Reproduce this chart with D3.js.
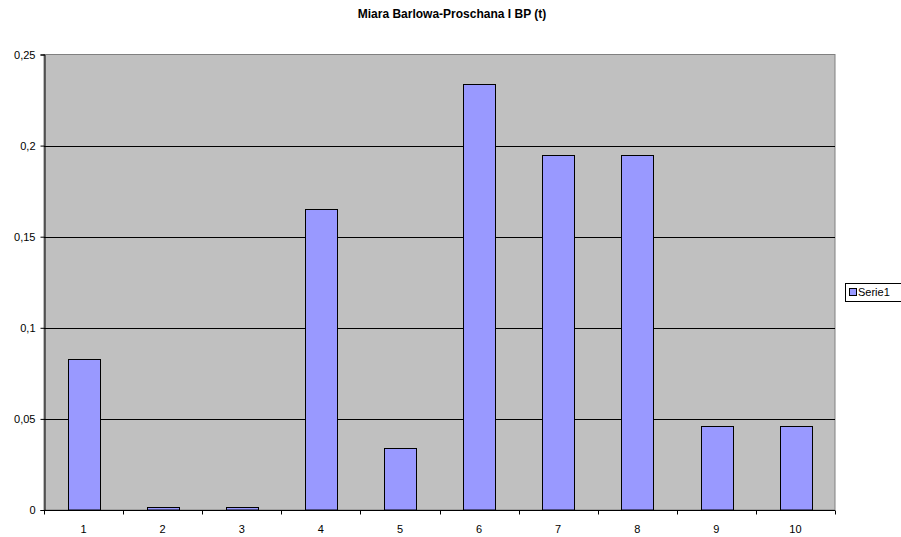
<!DOCTYPE html>
<html><head><meta charset="utf-8">
<script src="https://cdn.jsdelivr.net/npm/d3@7"></script>
<style>body{margin:0;background:#fff}svg{display:block;font-family:"Liberation Sans",Arial,sans-serif}</style>
</head><body><svg id="c" width="901" height="537"></svg>
<script>
const categories = ["1","2","3","4","5","6","7","8","9","10"];
const values = [0.0831, 0.0015, 0.0015, 0.165, 0.0342, 0.2337, 0.1947, 0.1947, 0.0461, 0.0461];
const yTicks = [0, 0.05, 0.1, 0.15, 0.2, 0.25];
const yTickLabels = ["0", "0,05", "0,1", "0,15", "0,2", "0,25"];
const seriesName = "Serie1";
const title = "Miara Barlowa-Proschana I BP (t)";

const svg = d3.select("#c");
const L = 44, R = 835, T = 54.5, B = 510;
const xb = d3.scaleBand().domain(categories).range([L, R]);
const y = d3.scaleLinear().domain([0, 0.25]).range([B, T]);

svg.append("rect").attr("x", L).attr("y", T).attr("width", R - L).attr("height", B - T)
  .attr("fill", "#c0c0c0").attr("stroke", "#808080").attr("stroke-width", 1);

// gridlines
svg.append("g").selectAll("line").data(yTicks.filter(d => d > 0 && d < 0.25)).join("line")
  .attr("x1", L).attr("x2", R).attr("y1", d => Math.round(y(d)) + 0.5).attr("y2", d => Math.round(y(d)) + 0.5)
  .attr("stroke", "#000").attr("stroke-width", 1);

// bars
svg.append("g").selectAll("rect").data(values).join("rect")
  .attr("x", (d, i) => Math.round(xb(categories[i]) + xb.bandwidth() * 0.3) + 0.5)
  .attr("width", Math.round(xb.bandwidth() * 0.4))
  .attr("y", d => Math.round(y(d)) + 0.5)
  .attr("height", d => Math.max(0, B - Math.round(y(d)) - 0.5))
  .attr("fill", "#9999ff").attr("stroke", "#000").attr("stroke-width", 1);

// y axis
const yAxis = d3.axisLeft(y).tickValues(yTicks).tickFormat((d, i) => yTickLabels[i]).tickSize(4).tickPadding(5);
const gy = svg.append("g").attr("transform", `translate(${L + 0.5},0)`).call(yAxis);
gy.select(".domain").attr("stroke", "#000");
gy.selectAll(".tick line").attr("stroke", "#000");
gy.selectAll("text").attr("font-size", 11).attr("fill", "#000").attr("font-family", "Liberation Sans, Arial, sans-serif");

// x axis
const gx = svg.append("g").attr("transform", `translate(0,${B + 0.5})`);
gx.append("line").attr("x1", L).attr("x2", R).attr("stroke", "#000");
const bounds = categories.map(c => xb(c)).concat([R]);
gx.selectAll("line.t").data(bounds).join("line").attr("class", "t")
  .attr("x1", d => Math.round(d) + 0.5).attr("x2", d => Math.round(d) + 0.5).attr("y1", 0).attr("y2", 4).attr("stroke", "#000");
gx.selectAll("text").data(categories).join("text")
  .attr("x", d => xb(d) + xb.bandwidth() / 2).attr("y", 22).attr("text-anchor", "middle")
  .attr("font-size", 11).attr("fill", "#000").text(d => d);

// title
svg.append("text").attr("x", 452).attr("y", 18).attr("text-anchor", "middle")
  .attr("font-size", 12).attr("font-weight", "bold").text(title);

// legend
const lg = svg.append("g");
lg.append("rect").attr("x", 845.5).attr("y", 283.5).attr("width", 60).attr("height", 18).attr("fill", "#fff").attr("stroke", "#000");
lg.append("rect").attr("x", 849.5).attr("y", 288.5).attr("width", 7).attr("height", 7).attr("fill", "#9999ff").attr("stroke", "#000");
lg.append("text").attr("x", 858).attr("y", 296).attr("font-size", 11).text(seriesName);
</script></body></html>
